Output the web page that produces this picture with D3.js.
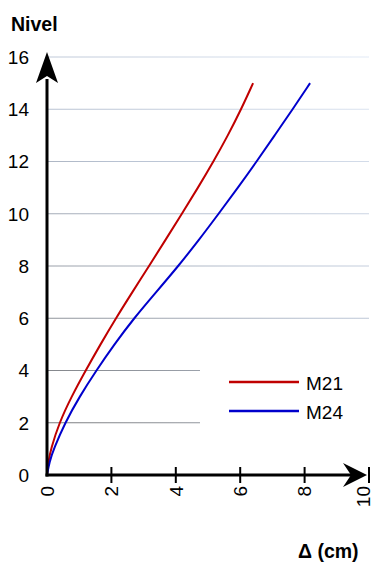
<!DOCTYPE html>
<html>
<head>
<meta charset="utf-8">
<script src="https://cdn.jsdelivr.net/npm/d3@7"></script>
<style>
  html, body { margin: 0; padding: 0; background: #fff; }
  svg { display: block; font-family: "Liberation Sans", Arial, sans-serif; }
</style>
</head>
<body>
<svg id="chart" width="375" height="565"></svg>
<script>
// Data
const levels = [0, 0.5, 1, 2, 3, 4, 5, 6, 7, 8, 9, 10, 11, 12, 13, 14, 15];
const m21 = [0, 0.04, 0.12, 0.38, 0.76, 1.2, 1.66, 2.14, 2.65, 3.17, 3.68, 4.19, 4.69, 5.17, 5.62, 6.03, 6.4];
const m24 = [0, 0.075, 0.21, 0.56, 1.01, 1.53, 2.09, 2.7, 3.39, 4.08, 4.72, 5.33, 5.93, 6.51, 7.07, 7.63, 8.17];
const seriesNames = ["M21", "M24"];
const seriesColors = ["#c00000", "#0000cc"];
const xTicks = [0, 2, 4, 6, 8, 10];
const yTicks = [0, 2, 4, 6, 8, 10, 12, 14, 16];
const shortGridLevels = [2, 4];
const yTitle = "Nivel";
const xTitle = "Δ (cm)";

const svg = d3.select("#chart");
const x = d3.scaleLinear().domain([0, 10]).range([47, 369]);
const y = d3.scaleLinear().domain([0, 16]).range([475, 57]);

// gradient for grid lines
const defs = svg.append("defs");
const grad = defs.append("linearGradient")
  .attr("id", "gridGrad")
  .attr("gradientUnits", "userSpaceOnUse")
  .attr("x1", x(0)).attr("y1", y(0))
  .attr("x2", x(10)).attr("y2", y(16));
grad.append("stop").attr("offset", 0).attr("stop-color", "#707070");
grad.append("stop").attr("offset", 0.55).attr("stop-color", "#b8c2d2");
grad.append("stop").attr("offset", 1).attr("stop-color", "#e2eaf6");

// grid lines
svg.append("g").selectAll("line")
  .data(yTicks.filter(d => d > 0))
  .join("line")
  .attr("x1", x(0))
  .attr("x2", d => shortGridLevels.includes(d) ? 200 : x(10))
  .attr("y1", d => y(d)).attr("y2", d => y(d))
  .attr("stroke", "url(#gridGrad)")
  .attr("stroke-width", 1);

// y tick labels
svg.append("g").selectAll("text")
  .data(yTicks)
  .join("text")
  .attr("x", 29)
  .attr("y", d => y(d))
  .attr("dy", "0.36em")
  .attr("text-anchor", "end")
  .attr("font-size", 19)
  .attr("fill", "#000")
  .text(d => d);

// x tick labels (rotated)
svg.append("g").selectAll("text")
  .data(xTicks)
  .join("text")
  .attr("transform", d => `translate(${Math.min(x(d), 363)},486) rotate(-90)`)
  .attr("dy", "0.36em")
  .attr("text-anchor", "end")
  .attr("font-size", 19)
  .attr("fill", "#000")
  .text(d => d);

// x ticks
svg.append("g").selectAll("line")
  .data(xTicks.filter(d => d > 0))
  .join("line")
  .attr("x1", d => x(d)).attr("x2", d => x(d))
  .attr("y1", y(0) - 8).attr("y2", y(0) + 8)
  .attr("stroke", "#000").attr("stroke-width", 2);

// curves
const line = d3.line()
  .x(d => x(d[0]))
  .y(d => y(d[1]))
  .curve(d3.curveBasis);

[m21, m24].forEach((vals, i) => {
  svg.append("path")
    .datum(vals.map((v, j) => [v, levels[j]]))
    .attr("d", line)
    .attr("fill", "none")
    .attr("stroke", seriesColors[i])
    .attr("stroke-width", 2);
});

// axes lines
svg.append("line")
  .attr("x1", x(0)).attr("x2", x(0))
  .attr("y1", y(0) + 1.5).attr("y2", y(16) + 22)
  .attr("stroke", "#000").attr("stroke-width", 3);
svg.append("line")
  .attr("x1", x(0) - 1.5).attr("x2", 352)
  .attr("y1", y(0)).attr("y2", y(0))
  .attr("stroke", "#000").attr("stroke-width", 3);

// arrow heads
const ax = x(0);
svg.append("path")
  .attr("d", `M${ax},52 L${ax + 11},83 L${ax},76 L${ax - 11},83 Z`)
  .attr("fill", "#000");
const ay = y(0);
svg.append("path")
  .attr("d", `M367,${ay} L343,${ay - 12} L351,${ay} L343,${ay + 12} Z`)
  .attr("fill", "#000");

// legend
seriesNames.forEach((name, i) => {
  const ly = 382 + i * 29;
  svg.append("line")
    .attr("x1", 229).attr("x2", 299)
    .attr("y1", ly).attr("y2", ly)
    .attr("stroke", seriesColors[i]).attr("stroke-width", 2.5);
  svg.append("text")
    .attr("x", 306).attr("y", ly + 7.5)
    .attr("font-size", 19)
    .attr("fill", "#000")
    .text(name);
});

// titles
svg.append("text")
  .attr("x", 11).attr("y", 31)
  .attr("font-size", 19.5).attr("font-weight", "bold")
  .text(yTitle);
svg.append("text")
  .attr("x", 298).attr("y", 558)
  .attr("font-size", 19.5).attr("font-weight", "bold")
  .text(xTitle);
</script>
</body>
</html>
